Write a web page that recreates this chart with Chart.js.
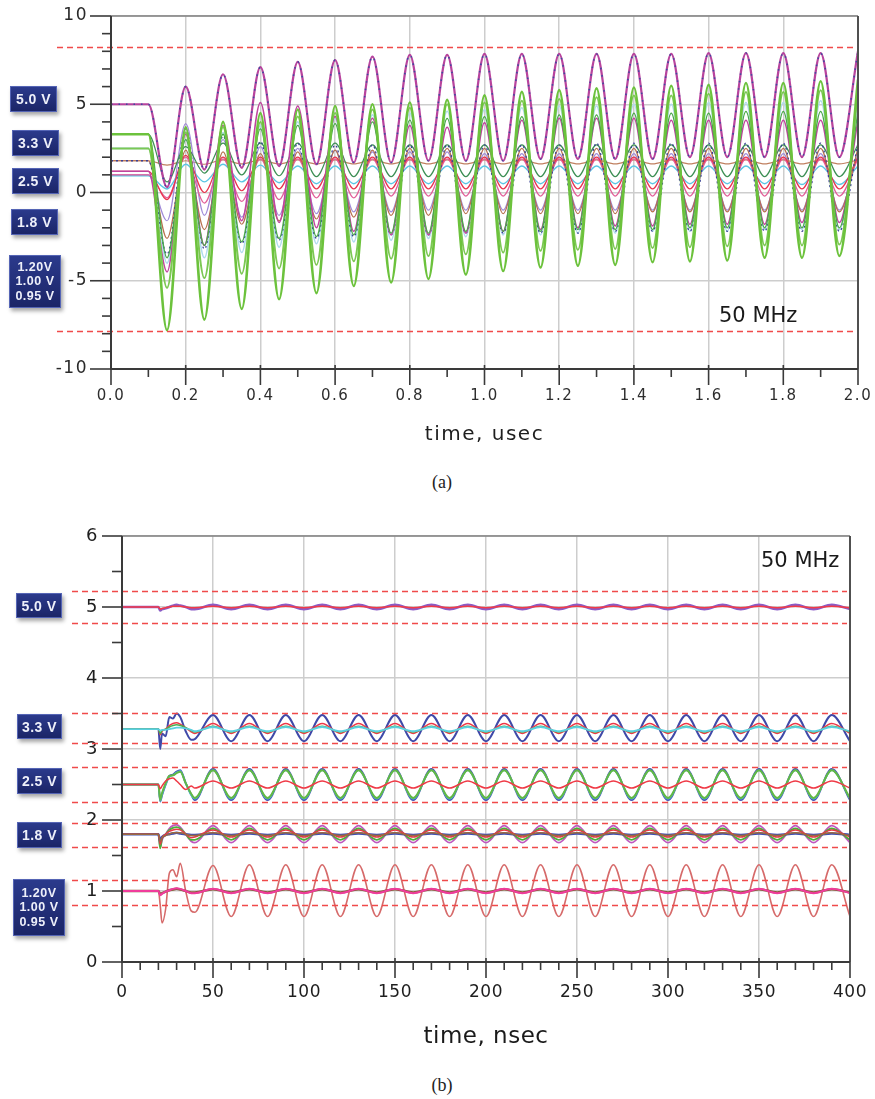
<!DOCTYPE html>
<html><head><meta charset="utf-8">
<script src="https://cdn.jsdelivr.net/npm/chart.js@4.4.1/dist/chart.umd.min.js"></script>
<style>
body{margin:0;background:#fff;width:875px;height:1099px;position:relative;overflow:hidden;font-family:"DejaVu Sans",sans-serif}
#wa{position:absolute;left:0;top:0;width:875px;height:460px}
#wb{position:absolute;left:0;top:500px;width:875px;height:560px}
.box{position:absolute;background:linear-gradient(180deg,#2b3a8c 0%,#1b2567 100%);border:1px solid #5565b5;box-shadow:2px 3px 4px rgba(0,0,0,0.35);color:#eef0fa;font:bold 14px "Liberation Sans",Arial,sans-serif;letter-spacing:0.5px;display:flex;align-items:center;justify-content:center;text-align:center;box-sizing:border-box}
.box.tri{font-size:12.5px;line-height:14.5px}
.cap{position:absolute;width:100px;text-align:center;font:18px "Liberation Serif","Times New Roman",serif;color:#222;line-height:22px}
.mhz{position:absolute;font:21px "DejaVu Sans",sans-serif;color:#1a1a1a;line-height:21px;white-space:nowrap}
</style></head><body>
<div id="wa"><canvas id="ca"></canvas></div>
<div id="wb"><canvas id="cb"></canvas></div>

<div class="box" style="left:10px;top:86px;width:47px;height:26px">5.0 V</div>
<div class="box" style="left:12px;top:130px;width:47px;height:26px">3.3 V</div>
<div class="box" style="left:12px;top:168px;width:47px;height:26px">2.5 V</div>
<div class="box" style="left:11px;top:209px;width:47px;height:26px">1.8 V</div>
<div class="box tri" style="left:9px;top:255px;width:52px;height:53px">1.20V<br>1.00 V<br>0.95 V</div>
<div class="mhz" style="left:719px;top:305px">50 MHz</div>
<div class="cap" style="left:392px;top:471px">(a)</div>

<div class="box" style="left:16px;top:593px;width:46px;height:25px">5.0 V</div>
<div class="box" style="left:17px;top:714px;width:45px;height:25px">3.3 V</div>
<div class="box" style="left:17px;top:768px;width:45px;height:26px">2.5 V</div>
<div class="box" style="left:17px;top:822px;width:45px;height:26px">1.8 V</div>
<div class="box tri" style="left:13px;top:879px;width:52px;height:57px">1.20V<br>1.00 V<br>0.95 V</div>
<div class="mhz" style="left:761px;top:550px">50 MHz</div>
<div class="cap" style="left:392px;top:1074px">(b)</div>

<script>
// ---------------- Chart (a) data: time in usec, values in V ----------------
const tA = [0,0.1,0.15,0.2,0.25,0.3,0.35,0.4,0.45,0.5,0.55,0.6,0.65,0.7,0.75,0.8,0.85,0.9,0.95,1.0,
  1.05,1.1,1.15,1.2,1.25,1.3,1.35,1.4,1.45,1.5,1.55,1.6,1.65,1.7,1.75,1.8,1.85,1.9,1.95,2.0];
const a5V      = [5.0,5.0, 0.3,6.0, 1.3,6.7, 1.4,7.1, 1.5,7.4, 1.6,7.5, 1.7,7.7, 1.7,7.8, 1.8,7.8, 1.8,7.85, 1.8,7.85,
  1.9,7.85, 1.9,7.85, 1.9,7.85, 1.9,7.85, 2.0,7.9, 2.0,7.9, 2.0,7.9, 2.0,7.9, 2.0,8.0];
const aGrnOut  = [3.3,3.3, -7.8,3.7, -7.2,4.0, -6.6,4.5, -6.05,4.7, -5.7,4.9, -5.3,5.0, -5.1,5.1, -4.9,5.25, -4.65,5.5, -4.45,5.7,
  -4.25,5.8, -4.15,5.9, -4.1,5.95, -3.95,6.05, -3.9,6.1, -3.85,6.2, -3.7,6.2, -3.7,6.3, -3.6,6.4];
const aGrn2    = [2.5,2.5, -5.4,3.4, -4.85,3.7, -4.6,4.0, -4.3,4.3, -4.1,4.5, -3.9,4.7, -3.75,4.8, -3.6,5.0, -3.5,5.1, -3.4,5.2,
  -3.3,5.3, -3.25,5.4, -3.2,5.5, -3.15,5.5, -3.1,5.6, -3.05,5.7, -3.0,5.7, -3.0,5.8, -2.95,5.8];
const aGrn3    = [3.3,3.3, -3.7,3.0, -3.0,3.3, -2.8,3.6, -2.6,3.8, -2.5,3.9, -2.4,4.0, -2.3,4.1, -2.3,4.2, -2.2,4.3, -2.2,4.3,
  -2.2,4.4, -2.1,4.4, -2.1,4.5, -2.1,4.5, -2.0,4.5, -2.0,4.6, -2.0,4.6, -2.0,4.6, -2.0,4.6];
const aGrnDark = [3.3,3.3, 0.6,2.6, 1.1,2.8, 1.0,2.8, 0.95,2.8, 0.9,2.8, 0.9,2.7, 0.9,2.7, 0.9,2.7, 0.9,2.7, 0.9,2.7,
  0.9,2.7, 0.9,2.7, 0.9,2.7, 0.9,2.7, 0.9,2.7, 0.9,2.7, 0.9,2.7, 0.9,2.7, 0.9,2.7];
const aPaleCy  = [2.5,2.5, -4.0,3.0, -3.7,3.4, -3.4,3.8, -3.1,4.0, -2.9,4.2, -2.8,4.4, -2.7,4.5, -2.6,4.6, -2.5,4.7, -2.4,4.8,
  -2.4,4.9, -2.3,4.9, -2.3,5.0, -2.2,5.0, -2.2,5.1, -2.2,5.1, -2.1,5.1, -2.1,5.2, -2.1,5.2];
const aMagIn   = [1.2,1.2, -4.5,3.3, -3.0,3.8, -1.6,5.1, -1.7,4.9, -2.0,4.3, -2.2,4.2, -2.4,3.8, -2.4,3.7, -2.3,3.95, -2.2,4.1,
  -2.1,4.2, -2.0,4.2, -1.9,4.2, -1.9,4.1, -1.8,4.1, -1.8,4.1, -1.8,4.1, -1.7,4.1, -1.7,4.1];
const aNavy    = [1.8,1.8, -3.5,3.6, -3.2,3.2, -2.9,2.9, -2.7,2.8, -2.6,2.7, -2.5,2.7, -2.4,2.7, -2.4,2.7, -2.3,2.7, -2.3,2.7,
  -2.3,2.7, -2.3,2.8, -2.2,2.8, -2.2,2.8, -2.2,2.8, -2.2,2.8, -2.2,2.8, -2.2,2.8, -2.2,2.8];
const aLilac   = [1.0,1.0, -1.6,3.9, -1.3,3.0, -1.4,2.6, -1.3,2.5, -1.2,2.4, -1.1,2.3, -1.1,2.3, -1.0,2.3, -1.0,2.2, -1.0,2.2,
  -1.0,2.2, -1.0,2.2, -1.0,2.2, -1.0,2.2, -1.0,2.2, -1.0,2.2, -1.0,2.2, -1.0,2.2, -1.0,2.2];
const aBrown   = [1.8,1.8, -2.6,2.4, -2.1,2.3, -1.8,2.2, -1.6,2.3, -1.5,2.4, -1.4,2.4, -1.3,2.5, -1.3,2.5, -1.2,2.5, -1.2,2.5,
  -1.2,2.5, -1.2,2.5, -1.2,2.5, -1.1,2.5, -1.1,2.5, -1.1,2.5, -1.1,2.5, -1.1,2.5, -1.1,2.5];
const aBrnFlat = [1.8,1.8, 1.55,1.8, 1.6,1.85, 1.62,1.85, 1.62,1.85, 1.62,1.85, 1.62,1.85, 1.62,1.85, 1.62,1.85, 1.62,1.85, 1.62,1.85,
  1.62,1.85, 1.62,1.85, 1.62,1.85, 1.62,1.85, 1.62,1.85, 1.62,1.85, 1.62,1.85, 1.62,1.85, 1.62,1.85];
const aRed     = [1.2,1.2, -0.4,2.1, 0.0,2.0, 0.1,2.0, 0.2,2.0, 0.2,2.0, 0.2,2.0, 0.2,2.0, 0.2,2.0, 0.2,2.0, 0.2,2.0,
  0.2,2.0, 0.2,2.0, 0.2,2.0, 0.2,2.0, 0.2,2.0, 0.2,2.0, 0.2,2.0, 0.2,2.0, 0.2,2.0];
const aPinkRed = [1.0,1.0, -0.3,2.0, -0.6,1.9, -0.5,1.9, -0.4,1.9, -0.3,1.9, -0.3,1.9, -0.2,1.9, -0.2,1.9, -0.2,1.9, -0.2,1.9,
  -0.2,1.9, -0.2,1.9, -0.2,1.9, -0.2,1.9, -0.2,1.9, -0.2,1.9, -0.2,1.9, -0.2,1.9, -0.2,1.9];
const aCyan    = [0.95,0.95, 0.2,1.6, 0.6,1.6, 0.6,1.55, 0.55,1.5, 0.5,1.5, 0.5,1.5, 0.5,1.5, 0.5,1.5, 0.5,1.5, 0.5,1.5,
  0.5,1.5, 0.5,1.5, 0.5,1.5, 0.5,1.5, 0.5,1.5, 0.5,1.5, 0.5,1.5, 0.45,1.5, 0.45,1.5];
const limitsA = [8.25, -7.85];
const xTicksA = [0,0.1,0.2,0.3,0.4,0.5,0.6,0.7,0.8,0.9,1.0,1.1,1.2,1.3,1.4,1.5,1.6,1.7,1.8,1.9,2.0];

// ---------------- Chart (b) data: time in nsec, values in V ----------------
const tB = [0,20,21,22,24,26,28,30,32,35,38,
  40,50,60,70,80,90,100,110,120,130,140,150,160,170,180,190,200,210,220,230,240,250,260,270,280,290,
  300,310,320,330,340,350,360,370,380,390,400];
const b5Pur = [5.0,5.0,4.95,4.97,4.98,5.0,5.02,5.03,5.02,5.0,4.97,
  4.97,5.03, 4.97,5.03, 4.97,5.03, 4.97,5.03, 4.97,5.03, 4.97,5.03,
  4.97,5.03, 4.97,5.03, 4.97,5.03, 4.97,5.03, 4.97,5.03, 4.97,5.03,
  4.97,5.03, 4.97,5.03, 4.97,5.03, 4.97,5.03, 4.97,5.03, 4.97,5.03,
  4.97];
const b5Red = [5.0,5.0,4.97,4.98,4.99,5.0,5.01,5.01,5.01,5.0,4.99,
  4.99,5.01, 4.99,5.01, 4.99,5.01, 4.99,5.01, 4.99,5.01, 4.99,5.01,
  4.99,5.01, 4.99,5.01, 4.99,5.01, 4.99,5.01, 4.99,5.01, 4.99,5.01,
  4.99,5.01, 4.99,5.01, 4.99,5.01, 4.99,5.01, 4.99,5.01, 4.99,5.01,
  4.99];
const b33Blue = [3.28,3.28,3.0,3.22,3.18,3.45,3.43,3.5,3.45,3.25,3.13,
  3.14,3.48, 3.11,3.48, 3.11,3.48, 3.11,3.48, 3.11,3.48, 3.11,3.48,
  3.11,3.48, 3.11,3.48, 3.11,3.48, 3.11,3.48, 3.11,3.48, 3.11,3.48,
  3.11,3.48, 3.11,3.48, 3.11,3.48, 3.11,3.48, 3.11,3.48, 3.11,3.48,
  3.11];
const b33Red = [3.28,3.28,3.2,3.25,3.28,3.33,3.36,3.37,3.35,3.3,3.24,
  3.22,3.36, 3.22,3.36, 3.22,3.36, 3.22,3.36, 3.22,3.36, 3.22,3.36,
  3.22,3.36, 3.22,3.36, 3.22,3.36, 3.22,3.36, 3.22,3.36, 3.22,3.36,
  3.22,3.36, 3.22,3.36, 3.22,3.36, 3.22,3.36, 3.22,3.36, 3.22,3.36,
  3.22];
const b33Grn = [3.28,3.28,3.22,3.26,3.28,3.31,3.33,3.34,3.33,3.3,3.26,
  3.24,3.32, 3.24,3.32, 3.24,3.32, 3.24,3.32, 3.24,3.32, 3.24,3.32,
  3.24,3.32, 3.24,3.32, 3.24,3.32, 3.24,3.32, 3.24,3.32, 3.24,3.32,
  3.24,3.32, 3.24,3.32, 3.24,3.32, 3.24,3.32, 3.24,3.32, 3.24,3.32,
  3.24];
const b33Cyan = [3.28,3.28,3.26,3.27,3.27,3.28,3.29,3.3,3.3,3.29,3.27,
  3.25,3.31, 3.25,3.31, 3.25,3.31, 3.25,3.31, 3.25,3.31, 3.25,3.31,
  3.25,3.31, 3.25,3.31, 3.25,3.31, 3.25,3.31, 3.25,3.31, 3.25,3.31,
  3.25,3.31, 3.25,3.31, 3.25,3.31, 3.25,3.31, 3.25,3.31, 3.25,3.31,
  3.25];
const b25Blue = [2.5,2.5,2.26,2.35,2.5,2.62,2.64,2.68,2.7,2.52,2.36,
  2.28,2.72, 2.28,2.72, 2.28,2.72, 2.28,2.72, 2.28,2.72, 2.28,2.72,
  2.28,2.72, 2.28,2.72, 2.28,2.72, 2.28,2.72, 2.28,2.72, 2.28,2.72,
  2.28,2.72, 2.28,2.72, 2.28,2.72, 2.28,2.72, 2.28,2.72, 2.28,2.72,
  2.28];
const b25Cyan = [2.5,2.5,2.27,2.36,2.5,2.61,2.63,2.67,2.69,2.52,2.35,
  2.3,2.7, 2.3,2.7, 2.3,2.7, 2.3,2.7, 2.3,2.7, 2.3,2.7,
  2.3,2.7, 2.3,2.7, 2.3,2.7, 2.3,2.7, 2.3,2.7, 2.3,2.7,
  2.3,2.7, 2.3,2.7, 2.3,2.7, 2.3,2.7, 2.3,2.7, 2.3,2.7,
  2.3];
const b25Grn = [2.5,2.5,2.28,2.38,2.52,2.62,2.63,2.66,2.68,2.52,2.37,
  2.31,2.7, 2.31,2.7, 2.31,2.7, 2.31,2.7, 2.31,2.7, 2.31,2.7,
  2.31,2.7, 2.31,2.7, 2.31,2.7, 2.31,2.7, 2.31,2.7, 2.31,2.7,
  2.31,2.7, 2.31,2.7, 2.31,2.7, 2.31,2.7, 2.31,2.7, 2.31,2.7,
  2.31];
const b25Red = [2.5,2.5,2.44,2.48,2.55,2.58,2.59,2.55,2.5,2.43,2.48,
  2.45,2.55, 2.45,2.55, 2.45,2.55, 2.45,2.55, 2.45,2.55, 2.45,2.55,
  2.45,2.55, 2.45,2.55, 2.45,2.55, 2.45,2.55, 2.45,2.55, 2.45,2.55,
  2.45,2.55, 2.45,2.55, 2.45,2.55, 2.45,2.55, 2.45,2.55, 2.45,2.55,
  2.45];
const b18Mag = [1.8,1.8,1.62,1.72,1.8,1.88,1.92,1.93,1.9,1.8,1.7,
  1.68,1.92, 1.68,1.92, 1.68,1.92, 1.68,1.92, 1.68,1.92, 1.68,1.92,
  1.68,1.92, 1.68,1.92, 1.68,1.92, 1.68,1.92, 1.68,1.92, 1.68,1.92,
  1.68,1.92, 1.68,1.92, 1.68,1.92, 1.68,1.92, 1.68,1.92, 1.68,1.92,
  1.68];
const b18Grn = [1.8,1.8,1.6,1.74,1.8,1.86,1.89,1.9,1.88,1.8,1.72,
  1.72,1.88, 1.72,1.88, 1.72,1.88, 1.72,1.88, 1.72,1.88, 1.72,1.88,
  1.72,1.88, 1.72,1.88, 1.72,1.88, 1.72,1.88, 1.72,1.88, 1.72,1.88,
  1.72,1.88, 1.72,1.88, 1.72,1.88, 1.72,1.88, 1.72,1.88, 1.72,1.88,
  1.72];
const b18Blue = [1.8,1.8,1.7,1.76,1.79,1.8,1.81,1.82,1.81,1.8,1.79,
  1.79,1.81, 1.79,1.81, 1.79,1.81, 1.79,1.81, 1.79,1.81, 1.79,1.81,
  1.79,1.81, 1.79,1.81, 1.79,1.81, 1.79,1.81, 1.79,1.81, 1.79,1.81,
  1.79,1.81, 1.79,1.81, 1.79,1.81, 1.79,1.81, 1.79,1.81, 1.79,1.81,
  1.79];
const b18Red = [1.8,1.8,1.66,1.75,1.8,1.84,1.86,1.87,1.86,1.8,1.75,
  1.76,1.86, 1.76,1.86, 1.76,1.86, 1.76,1.86, 1.76,1.86, 1.76,1.86,
  1.76,1.86, 1.76,1.86, 1.76,1.86, 1.76,1.86, 1.76,1.86, 1.76,1.86,
  1.76,1.86, 1.76,1.86, 1.76,1.86, 1.76,1.86, 1.76,1.86, 1.76,1.86,
  1.76];
const b18Brn = [1.8,1.8,1.7,1.75,1.78,1.8,1.82,1.82,1.82,1.8,1.78,
  1.78,1.82, 1.78,1.82, 1.78,1.82, 1.78,1.82, 1.78,1.82, 1.78,1.82,
  1.78,1.82, 1.78,1.82, 1.78,1.82, 1.78,1.82, 1.78,1.82, 1.78,1.82,
  1.78,1.82, 1.78,1.82, 1.78,1.82, 1.78,1.82, 1.78,1.82, 1.78,1.82,
  1.78];
const b10Big = [1.0,1.0,0.8,0.55,0.75,1.25,1.3,1.2,1.39,1.0,0.72,
  0.7,1.36, 0.64,1.37, 0.64,1.37, 0.64,1.37, 0.64,1.37, 0.64,1.37,
  0.64,1.37, 0.64,1.37, 0.64,1.37, 0.64,1.37, 0.64,1.37, 0.64,1.37,
  0.64,1.37, 0.64,1.37, 0.64,1.37, 0.64,1.37, 0.64,1.37, 0.64,1.37,
  0.64];
const b10Brn = [1.0,1.0,0.96,0.97,0.99,1.01,1.02,1.03,1.02,1.0,0.98,
  0.98,1.025, 0.98,1.025, 0.98,1.025, 0.98,1.025, 0.98,1.025, 0.98,1.025,
  0.98,1.025, 0.98,1.025, 0.98,1.025, 0.98,1.025, 0.98,1.025, 0.98,1.025,
  0.98,1.025, 0.98,1.025, 0.98,1.025, 0.98,1.025, 0.98,1.025, 0.98,1.025,
  0.98];
const b10Pink = [1.0,1.0,0.94,0.96,0.99,1.01,1.03,1.04,1.03,1.0,0.97,
  0.97,1.03, 0.97,1.03, 0.97,1.03, 0.97,1.03, 0.97,1.03, 0.97,1.03,
  0.97,1.03, 0.97,1.03, 0.97,1.03, 0.97,1.03, 0.97,1.03, 0.97,1.03,
  0.97,1.03, 0.97,1.03, 0.97,1.03, 0.97,1.03, 0.97,1.03, 0.97,1.03,
  0.97];
const limitsB = [5.22, 4.78, 3.5, 3.08, 2.74, 2.26, 1.96, 1.62, 1.15, 0.8];

// ---------------- helpers ----------------
Chart.defaults.font.family = '"DejaVu Sans", sans-serif';
function ds(t, vals, color, w, dash){
  return {data: t.map((x,i)=>({x:x, y:vals[i]})), borderColor: color, borderWidth: w,
    borderDash: dash || [], fill:false, pointRadius:0, pointHoverRadius:0,
    cubicInterpolationMode:'monotone'};
}
function decor(o){
  return {
    id:'decor',
    beforeDraw(chart){ chart.ctx.letterSpacing = o.ls; },
    afterDatasetsDraw(chart){
      const ctx = chart.ctx, ys = chart.scales.y, a = chart.chartArea;
      ctx.save();
      ctx.strokeStyle = '#f04a4a'; ctx.lineWidth = 1.5; ctx.setLineDash([6,4]);
      o.limits.forEach(v => {
        const py = Math.round(ys.getPixelForValue(v)) + 0.5;
        ctx.beginPath(); ctx.moveTo(o.limitX, py); ctx.lineTo(a.right - 3, py); ctx.stroke();
      });
      ctx.restore();
    },
    afterDraw(chart){
      const ctx = chart.ctx, xs = chart.scales.x, ys = chart.scales.y, a = chart.chartArea;
      ctx.save(); ctx.setLineDash([]);
      ctx.strokeStyle = '#3a3a3a'; ctx.lineWidth = 1.6;
      ys.ticks.forEach(t => {
        const py = ys.getPixelForValue(t.value);
        const L = o.yMajor(t.value) ? o.yMajLen : o.yMinLen;
        ctx.beginPath(); ctx.moveTo(a.left - L, py); ctx.lineTo(a.left, py); ctx.stroke();
      });
      xs.ticks.forEach(t => {
        const px = xs.getPixelForValue(t.value);
        const maj = o.xMajor(t.value);
        ctx.beginPath(); ctx.moveTo(px, a.bottom - (maj ? 4 : 0)); ctx.lineTo(px, a.bottom + (maj ? 16 : 8)); ctx.stroke();
      });
      // frame
      ctx.lineWidth = 1.5; ctx.strokeStyle = '#808080';
      ctx.beginPath(); ctx.moveTo(a.left, a.top); ctx.lineTo(a.right, a.top); ctx.stroke();
      ctx.lineWidth = 2; ctx.strokeStyle = '#505050';
      ctx.beginPath(); ctx.moveTo(a.right, a.top); ctx.lineTo(a.right, a.bottom); ctx.stroke();
      ctx.strokeStyle = '#3a3a3a';
      ctx.beginPath(); ctx.moveTo(a.left, a.top); ctx.lineTo(a.left, a.bottom); ctx.lineTo(a.right, a.bottom); ctx.stroke();
      ctx.restore();
    }
  };
}
const gridCol = '#cdcdcd', clear = 'rgba(0,0,0,0)';
const fitX = h => s => { s.height = h; s.paddingLeft = 0; s.paddingRight = 0; s.paddingTop = 0; s.paddingBottom = 0; };
const fitY = w => s => { s.width = w; s.paddingLeft = 0; s.paddingRight = 0; s.paddingTop = 0; s.paddingBottom = 0; };

// ---------------- chart (a) ----------------
const isMajXA = v => Math.round(v*10) % 2 === 0;
const isMajYA = v => Math.round(v) % 5 === 0;
const backToFrontA = [
  ds(tA, aPaleCy, '#b0dced', 1.6),
  ds(tA, aBrnFlat, '#c08060', 1.2),
  ds(tA, aLilac, '#a08ad8', 1.2),
  ds(tA, aCyan, '#5cc6e4', 1.4),
  ds(tA, aPinkRed, '#e2609a', 1.2),
  ds(tA, aRed, '#e8344e', 1.2),
  ds(tA, aBrown, '#b8704e', 1.2),
  ds(tA, aGrnDark, '#3d8f55', 1.2),
  ds(tA, aNavy, '#3a4296', 1.3, [2,3]),
  ds(tA, aMagIn, '#c0449e', 1.5),
  ds(tA, aGrn3, '#4aa84a', 1.3),
  ds(tA, aGrn2, '#7cc854', 2.0),
  ds(tA, aGrnOut, '#6cc23c', 2.6),
  ds(tA, a5V, '#b8449e', 2.2),
  ds(tA, a5V, '#3c4aa0', 1.6, [1.5,6])
];
new Chart(document.getElementById('ca'), {
  type:'line',
  data:{datasets: backToFrontA.slice().reverse()},
  options:{
    responsive:true, maintainAspectRatio:false, animation:false, events:[],
    layout:{padding:{top:16, right:17, left:0, bottom:0}},
    plugins:{legend:{display:false}, tooltip:{enabled:false}},
    scales:{
      x:{type:'linear', min:0, max:2,
        afterBuildTicks: s => { s.ticks = xTicksA.map(v => ({value:v})); },
        ticks:{autoSkip:false, maxRotation:0, padding:18, color:'#2e2e2e', font:{size:15},
          callback: v => isMajXA(v) ? v.toFixed(1) : ''},
        grid:{drawTicks:false, lineWidth:1.5, color: c => (c.tick && isMajXA(c.tick.value)) ? gridCol : clear},
        border:{display:false},
        title:{display:true, text:'time, usec', color:'#1e1e1e', font:{size:20}, padding:{top:0, bottom:13}},
        afterFit: fitX(91)
      },
      y:{min:-10, max:10,
        ticks:{stepSize:1, autoSkip:false, padding:23, color:'#2a2a2a', font:{size:17},
          callback: v => isMajYA(v) ? String(v) : ''},
        grid:{drawTicks:false, lineWidth:1.5, color: c => (c.tick && isMajYA(c.tick.value)) ? gridCol : clear},
        border:{display:false},
        afterFit: fitY(111)
      }
    }
  },
  plugins:[decor({ls:'1.5px', limits:limitsA, limitX:57, yMajor:isMajYA, xMajor:isMajXA, yMajLen:21, yMinLen:9})]
});

// ---------------- chart (b) ----------------
const isMajXB = v => Math.round(v) % 50 === 0;
const isMajYB = v => Math.abs(v - Math.round(v)) < 1e-6;
const backToFrontB = [
  ds(tB, b5Pur, '#8a5cc6', 2.5),
  ds(tB, b5Red, '#f23a48', 1.5),
  ds(tB, b33Blue, '#3f49a8', 2.0),
  ds(tB, b33Red, '#ee3a48', 1.5),
  ds(tB, b33Grn, '#4cae4c', 1.5),
  ds(tB, b33Cyan, '#5ad0e0', 1.8),
  ds(tB, b25Blue, '#4654b4', 2.0),
  ds(tB, b25Cyan, '#4cc4e0', 1.6),
  ds(tB, b25Grn, '#62b845', 2.0),
  ds(tB, b25Red, '#ef3a46', 1.5),
  ds(tB, b18Mag, '#c058c0', 1.8),
  ds(tB, b18Grn, '#4caf3a', 1.8),
  ds(tB, b18Blue, '#4050b4', 2.5),
  ds(tB, b18Red, '#e83846', 1.5),
  ds(tB, b18Brn, '#9a6a40', 1.5),
  ds(tB, b10Big, '#d66a6a', 1.6),
  ds(tB, b10Brn, '#8a5a3a', 2.5),
  ds(tB, b10Pink, '#f03c9c', 2.0)
];
new Chart(document.getElementById('cb'), {
  type:'line',
  data:{datasets: backToFrontB.slice().reverse()},
  options:{
    responsive:true, maintainAspectRatio:false, animation:false, events:[],
    layout:{padding:{top:36, right:25, left:0, bottom:0}},
    plugins:{legend:{display:false}, tooltip:{enabled:false}},
    scales:{
      x:{type:'linear', min:0, max:400,
        ticks:{stepSize:10, autoSkip:false, maxRotation:0, padding:20, color:'#1e1e1e', font:{size:17},
          callback: v => isMajXB(v) ? String(v) : ''},
        grid:{drawTicks:false, lineWidth:1.5, color: c => (c.tick && isMajXB(c.tick.value)) ? gridCol : clear},
        border:{display:false},
        title:{display:true, text:'time, nsec', color:'#1a1a1a', font:{size:23}, padding:{top:0, bottom:9}},
        afterFit: fitX(98)
      },
      y:{min:0, max:6,
        ticks:{stepSize:0.5, autoSkip:false, padding:24, color:'#1e1e1e', font:{size:18},
          callback: v => isMajYB(v) ? String(v) : ''},
        grid:{drawTicks:false, lineWidth:1.5, color: c => (c.tick && isMajYB(c.tick.value)) ? gridCol : clear},
        border:{display:false},
        afterFit: fitY(122)
      }
    }
  },
  plugins:[decor({ls:'0.5px', limits:limitsB, limitX:72, yMajor:isMajYB, xMajor:isMajXB, yMajLen:20, yMinLen:10})]
});
</script>
</body></html>
